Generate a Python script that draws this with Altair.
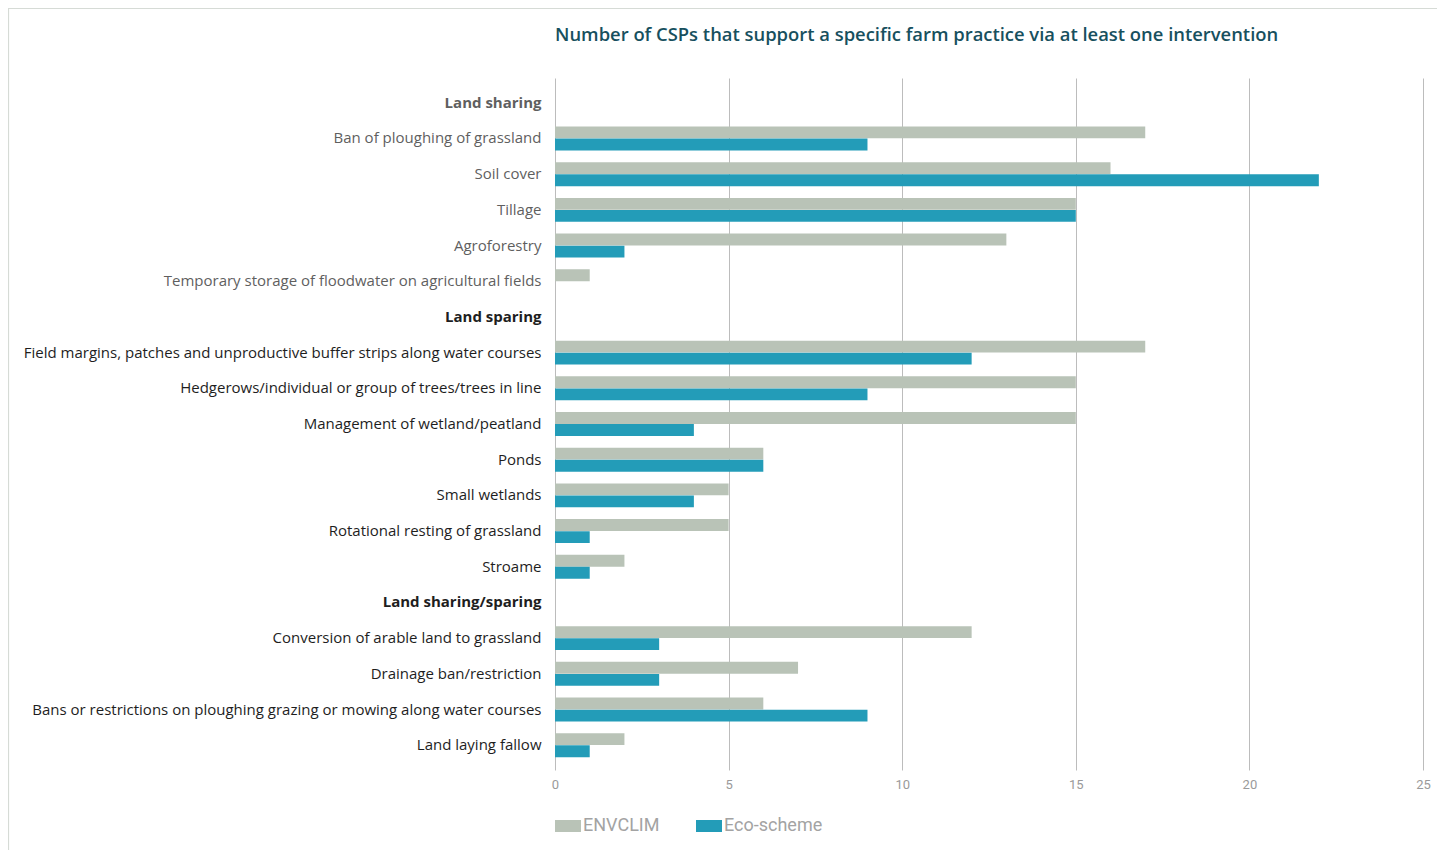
import altair as alt
import pandas as pd

# ---- data ----
groups = ["Land sharing", "Land sparing", "Land sharing/sparing"]
sharing_items = [
    "Ban of ploughing of grassland",
    "Soil cover",
    "Tillage",
    "Agroforestry",
    "Temporary storage of floodwater on agricultural fields",
]
sharing_envclim = [17, 16, 15, 13, 1]
sharing_eco = [9, 22, 15, 2, 0]

sparing_items = [
    "Field margins, patches and unproductive buffer strips along water courses",
    "Hedgerows/individual or group of trees/trees in line",
    "Management of wetland/peatland",
    "Ponds",
    "Small wetlands",
    "Rotational resting of grassland",
    "Stroame",
]
sparing_envclim = [17, 15, 15, 6, 5, 5, 2]
sparing_eco = [12, 9, 4, 6, 4, 1, 1]

both_items = [
    "Conversion of arable land to grassland",
    "Drainage ban/restriction",
    "Bans or restrictions on ploughing grazing or mowing along water courses",
    "Land laying fallow",
]
both_envclim = [12, 7, 6, 2]
both_eco = [3, 3, 9, 1]

series = ["ENVCLIM", "Eco-scheme"]
colors = ["#b9c3b7", "#239cb8"]
x_ticks = [0, 5, 10, 15, 20, 25]

# ---- table ----
order = [groups[0]] + sharing_items + [groups[1]] + sparing_items + [groups[2]] + both_items
rows = []
for items, env, eco in [
    (sharing_items, sharing_envclim, sharing_eco),
    (sparing_items, sparing_envclim, sparing_eco),
    (both_items, both_envclim, both_eco),
]:
    for it, a, b in zip(items, env, eco):
        rows.append({"category": it, "series": series[0], "value": a})
        rows.append({"category": it, "series": series[1], "value": b})
df = pd.DataFrame(rows)

grey_labels = [groups[0]] + sharing_items
js_list = lambda L: "[" + ",".join("'" + s.replace("'", "\\'") + "'" for s in L) + "]"

label_color = {"expr": f"indexof({js_list(grey_labels)}, datum.value) >= 0 ? '#5f5f5f' : '#1e1e1e'"}
label_weight = {"expr": f"indexof({js_list(groups)}, datum.value) >= 0 ? 'bold' : 'normal'"}

bars = alt.Chart(df).mark_bar(opacity=1).encode(
    x=alt.X(
        "value:Q",
        scale=alt.Scale(domain=[0, 25], nice=False),
        axis=alt.Axis(
            values=x_ticks,
            title=None,
            ticks=False,
            domain=False,
            grid=True,
            gridColor="#bcbcbc",
            gridWidth=1,
            labelColor="#9a9a9a",
            labelFontSize=13,
            labelFont="Roboto",
            labelPadding=8,
            labelFlush=False,
        ),
    ),
    y=alt.Y(
        "category:N",
        sort=order,
        scale=alt.Scale(domain=order, paddingInner=0.33, paddingOuter=0.36),
        axis=alt.Axis(
            title=None,
            ticks=False,
            domain=False,
            labelPadding=14,
            labelFontSize=15,
            labelFont="Open Sans",
            labelColor=label_color,
            labelFontWeight=label_weight,
            labelLimit=1000,
        ),
    ),
    yOffset=alt.YOffset("series:N", sort=series, scale=alt.Scale(domain=series, paddingInner=0.02)),
    color=alt.Color(
        "series:N",
        scale=alt.Scale(domain=series, range=colors),
        legend=alt.Legend(
            title=None,
            orient="none",
            legendX=0,
            legendY=735,
            direction="horizontal",
            symbolType="M-1,-0.46L1,-0.46L1,0.46L-1,0.46Z",
            symbolSize=676,
            symbolStrokeWidth=0,
            symbolOpacity=1,
            labelFontSize=18,
            labelFont="Roboto",
            labelColor="#a3a3a3",
            labelOffset=2,
            columnPadding=36,
        ),
    ),
)

border = alt.Chart(pd.DataFrame({"k": [0]})).mark_rect(
    fillOpacity=0, stroke="#d6dbd6", strokeWidth=1.2, clip=False
).encode(
    x=alt.value(-546.5), x2=alt.value(889.5), y=alt.value(-69.5), y2=alt.value(830)
)

chart = (
    alt.layer(border, bars)
    .properties(
        width=868,
        height=692,
        autosize=alt.AutoSizeParams(type="none"),
        padding={"left": 547, "top": 70, "right": 14, "bottom": 90},
        title=alt.TitleParams(
            "Number of CSPs that support a specific farm practice via at least one intervention",
            anchor="start",
            frame="group",
            fontSize=18.4,
            font="Open Sans",
            fontWeight=600,
            color="#17505e",
            offset=-36,
        ),
    )
    .configure_view(stroke=None)
)

chart.save("out.html", embed_options={"renderer": "svg", "actions": False})
